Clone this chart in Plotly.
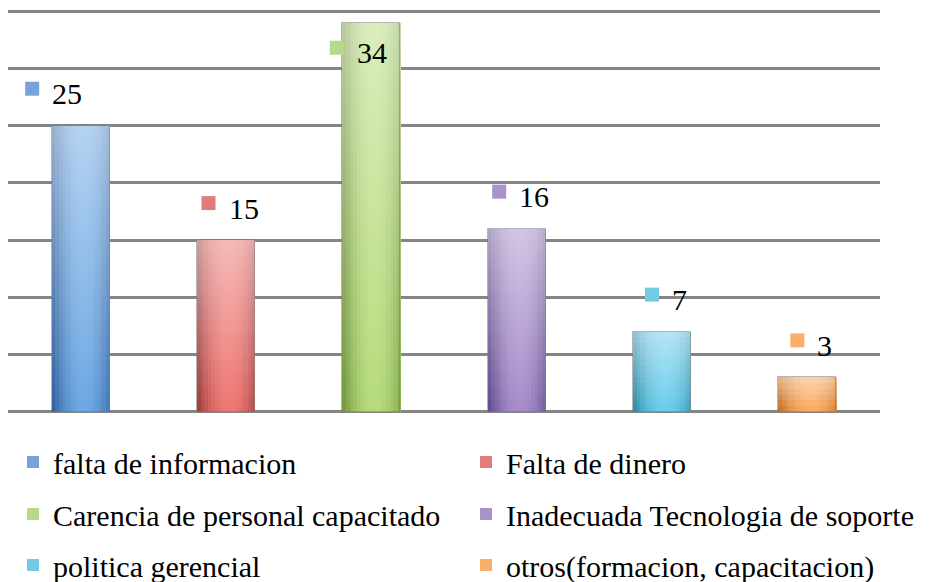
import plotly.graph_objects as go

# ---------------- data ----------------
categories = [
    "falta de informacion",
    "Falta de dinero",
    "Carencia de personal capacitado",
    "Inadecuada Tecnologia de soporte",
    "politica gerencial",
    "otros(formacion, capacitacion)",
]
values = [25, 15, 34, 16, 7, 3]
y_ticks = [0, 5, 10, 15, 20, 25, 30, 35]

# ---------------- styles ----------------
edge_colors = ["#2C5A98", "#983636", "#6E923A", "#5A4286", "#28869F", "#BE681E"]
high_colors = ["#6CA8E4", "#EE7672", "#B6DC7A", "#A68CCA", "#6ACCEC", "#FCA85E"]
key_colors = ["#7AA2DA", "#E27C7A", "#B9D98A", "#A993C9", "#72CAE4", "#FBAE6A"]

FONT = "Liberation Serif"
FONT_SIZE = 30
BAR_W = 0.4
N_STRIPS = 16
SEG_H = 0.5          # height of one shading segment (value units)
TOP_LIGHT = 0.5      # white mix at the top of each bar
PAD = 0.2            # range padding so the 0 and 35 grid lines are drawn

# label nudges (pixels) for the hand-placed labels
label_nudge_x = [-31, 0, -17, 0, 0, 0]
label_nudge_y = [0, 0, -62, 0, 0, 0]

FIG_W, FIG_H = 931, 574   # page body adds an 8px offset


def hex2rgb(h):
    h = h.lstrip("#")
    return tuple(int(h[i:i + 2], 16) for i in (0, 2, 4))


def mix_rgb(a, b, t):
    return tuple(a[i] + (b[i] - a[i]) * t for i in range(3))


def css(c):
    return "rgb(%d,%d,%d)" % tuple(round(x) for x in c)


def profile(t):
    p = 1 - ((t - 0.55) / 0.55) ** 2
    return max(0.0, min(1.0, p))


xpos = list(range(len(values)))
fig = go.Figure()

# main bars (legend carriers)
legend_ids = ["legend", "legend2", "legend3", "legend4", "legend5", "legend6"]
for i, (cat, v) in enumerate(zip(categories, values)):
    fig.add_trace(go.Bar(
        x=[xpos[i]], y=[v], name=cat, width=BAR_W,
        marker=dict(color=key_colors[i], line=dict(width=0)),
        legend=legend_ids[i], hoverinfo="y",
    ))

# cylinder shading: vertical strips, each split into stacked segments
white = (255, 255, 255)
sw = BAR_W / N_STRIPS
for s in range(N_STRIPS):
    p = profile((s + 0.5) / N_STRIPS)
    xs, ys, bs, cols = [], [], [], []
    for i, v in enumerate(values):
        col = mix_rgb(hex2rgb(edge_colors[i]), hex2rgb(high_colors[i]), p)
        n = max(1, int(round(v / SEG_H)))
        h = v / n
        for k in range(n):
            b = k * h
            top = min(v, b + h * 1.15)
            xs.append(xpos[i])
            bs.append(b)
            ys.append(top - b)
            cols.append(css(mix_rgb(col, white, TOP_LIGHT * (k + 0.5) / n)))
    fig.add_trace(go.Bar(
        x=xs, y=ys, base=bs, width=sw * 1.05, offset=-BAR_W / 2 + s * sw,
        marker=dict(color=cols, line=dict(width=0)),
        showlegend=False, hoverinfo="skip",
    ))

# thin outline
fig.add_trace(go.Bar(
    x=xpos, y=values, width=BAR_W,
    marker=dict(color="rgba(0,0,0,0)", line=dict(color="rgba(120,120,120,0.55)", width=1)),
    showlegend=False, hoverinfo="skip",
))

# data labels: small colored key + value
shapes = []
annotations = []
for i, v in enumerate(values):
    txt = str(v)
    text_w = 15 * len(txt)
    total = 14 + 13 + text_w
    left = -total / 2 + 4 + label_nudge_x[i]
    sq_c = left + 7
    tx_c = left + 27 + text_w / 2
    sq_dy = 37 + label_nudge_y[i]
    tx_dy = 32 + label_nudge_y[i]
    shapes.append(dict(
        type="rect", xref="x", yref="y", xsizemode="pixel", ysizemode="pixel",
        xanchor=xpos[i], yanchor=v,
        x0=sq_c - 7, x1=sq_c + 7, y0=sq_dy - 7, y1=sq_dy + 7,
        fillcolor=key_colors[i], line=dict(width=0), layer="above",
    ))
    annotations.append(dict(
        x=xpos[i], y=v, xref="x", yref="y", text=txt, showarrow=False,
        xshift=tx_c, yshift=tx_dy, xanchor="center", yanchor="middle",
        font=dict(family=FONT, size=FONT_SIZE, color="#000000"),
    ))

# legends: 2 columns x 3 rows (figure pixels)
col_x = [5, 458]
row_y = [454, 506, 557]
legend_layout = {}
for i, lid in enumerate(legend_ids):
    r, c = divmod(i, 2)
    legend_layout[lid] = dict(
        x=col_x[c] / FIG_W, xref="container", xanchor="left",
        y=1 - row_y[r] / FIG_H, yref="container", yanchor="middle",
        font=dict(family=FONT, size=FONT_SIZE, color="#000000"),
        bgcolor="rgba(0,0,0,0)", borderwidth=0,
    )

fig.update_layout(
    width=FIG_W, height=FIG_H,
    margin=dict(l=0, r=59, t=1, b=168, pad=0, autoexpand=False),
    paper_bgcolor="#FFFFFF", plot_bgcolor="#FFFFFF",
    barmode="overlay", bargap=0,
    xaxis=dict(range=[-0.5, len(values) - 0.5], showgrid=False, zeroline=False,
               showticklabels=False, ticks="", showline=False, fixedrange=True),
    yaxis=dict(range=[y_ticks[0] - PAD, y_ticks[-1] + PAD], tickvals=y_ticks, showgrid=True,
               gridcolor="#858585", gridwidth=2.5, zeroline=False,
               showticklabels=False, ticks="", showline=False, fixedrange=True),
    shapes=shapes, annotations=annotations,
    font=dict(family=FONT, size=FONT_SIZE, color="#000000"),
    **legend_layout,
)

fig.write_html("out.html")
